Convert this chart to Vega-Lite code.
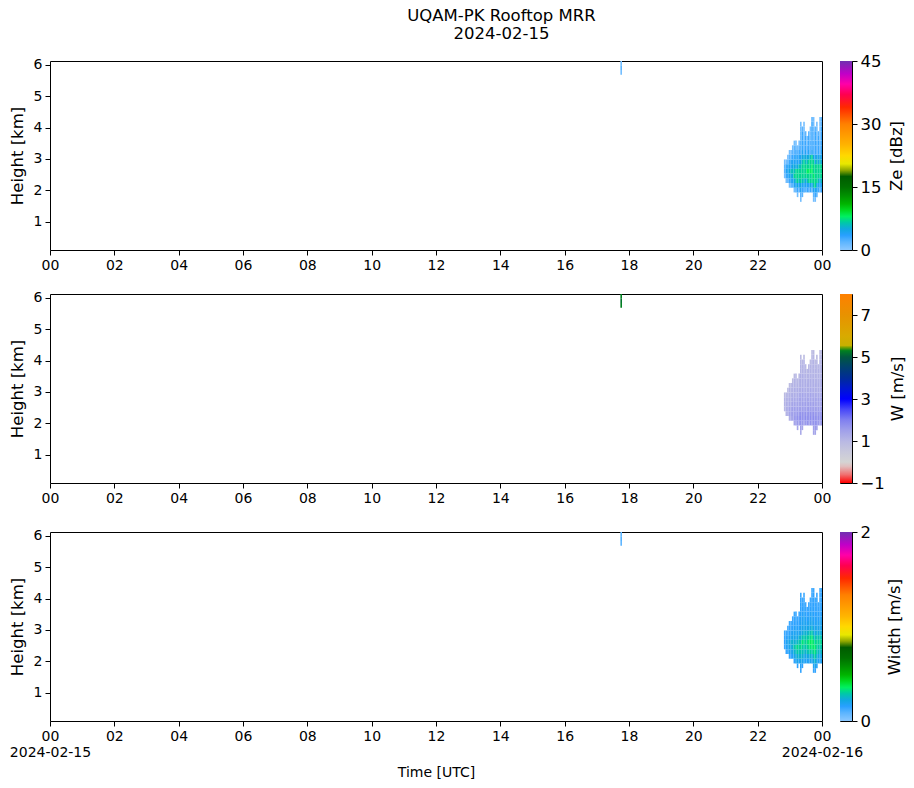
{
  "$schema": "https://vega.github.io/schema/vega-lite/v6.json",
  "description": "UQAM-PK Rooftop MRR, 2024-02-15: reflectivity, Doppler velocity and spectral width",
  "padding": {"left": 8, "top": 8, "right": 0, "bottom": 0},
  "title": {
    "text": ["UQAM-PK Rooftop MRR", "2024-02-15"],
    "anchor": "middle",
    "dx": 44,
    "fontSize": 16.5,
    "fontWeight": "normal",
    "lineHeight": 17.5,
    "offset": 10.5
  },
  "data": {
    "values": [
      {"minute": 1063, "km": 5.7, "ze": 1, "w": 5.3, "sw": 0.08},
      {"minute": 1063, "km": 5.85, "ze": 2, "w": 5.2, "sw": 0.1},
      {"minute": 1063, "km": 6.0, "ze": 1, "w": 5.3, "sw": 0.08},
      {"minute": 1368, "km": 2.4, "ze": 1, "w": 1.0, "sw": 0.13},
      {"minute": 1368, "km": 2.55, "ze": 2, "w": 1.1, "sw": 0.15},
      {"minute": 1368, "km": 2.7, "ze": 2, "w": 1.1, "sw": 0.14},
      {"minute": 1368, "km": 2.85, "ze": 1, "w": 0.9, "sw": 0.13},
      {"minute": 1371, "km": 2.25, "ze": 1, "w": 1.1, "sw": 0.14},
      {"minute": 1371, "km": 2.4, "ze": 3, "w": 1.2, "sw": 0.17},
      {"minute": 1371, "km": 2.55, "ze": 4, "w": 1.2, "sw": 0.18},
      {"minute": 1371, "km": 2.7, "ze": 3, "w": 1.1, "sw": 0.15},
      {"minute": 1371, "km": 2.85, "ze": 1, "w": 1.0, "sw": 0.13},
      {"minute": 1374, "km": 2.25, "ze": 2, "w": 1.2, "sw": 0.15},
      {"minute": 1374, "km": 2.4, "ze": 4, "w": 1.3, "sw": 0.18},
      {"minute": 1374, "km": 2.55, "ze": 4, "w": 1.2, "sw": 0.19},
      {"minute": 1374, "km": 2.7, "ze": 4, "w": 1.2, "sw": 0.17},
      {"minute": 1374, "km": 2.85, "ze": 2, "w": 1.1, "sw": 0.14},
      {"minute": 1374, "km": 3.0, "ze": 1, "w": 0.9, "sw": 0.13},
      {"minute": 1377, "km": 2.1, "ze": 1, "w": 1.2, "sw": 0.14},
      {"minute": 1377, "km": 2.25, "ze": 3, "w": 1.4, "sw": 0.18},
      {"minute": 1377, "km": 2.4, "ze": 4, "w": 1.4, "sw": 0.2},
      {"minute": 1377, "km": 2.55, "ze": 5, "w": 1.3, "sw": 0.2},
      {"minute": 1377, "km": 2.7, "ze": 4, "w": 1.2, "sw": 0.18},
      {"minute": 1377, "km": 2.85, "ze": 3, "w": 1.1, "sw": 0.15},
      {"minute": 1377, "km": 3.0, "ze": 2, "w": 1.1, "sw": 0.14},
      {"minute": 1377, "km": 3.15, "ze": 1, "w": 0.9, "sw": 0.13},
      {"minute": 1380, "km": 2.1, "ze": 2, "w": 1.4, "sw": 0.15},
      {"minute": 1380, "km": 2.25, "ze": 4, "w": 1.5, "sw": 0.19},
      {"minute": 1380, "km": 2.4, "ze": 5, "w": 1.4, "sw": 0.22},
      {"minute": 1380, "km": 2.55, "ze": 6, "w": 1.3, "sw": 0.24},
      {"minute": 1380, "km": 2.7, "ze": 4, "w": 1.2, "sw": 0.19},
      {"minute": 1380, "km": 2.85, "ze": 4, "w": 1.2, "sw": 0.17},
      {"minute": 1380, "km": 3.0, "ze": 2, "w": 1.1, "sw": 0.14},
      {"minute": 1380, "km": 3.15, "ze": 1, "w": 1.0, "sw": 0.13},
      {"minute": 1383, "km": 2.1, "ze": 2, "w": 1.4, "sw": 0.17},
      {"minute": 1383, "km": 2.25, "ze": 4, "w": 1.5, "sw": 0.2},
      {"minute": 1383, "km": 2.4, "ze": 5, "w": 1.5, "sw": 0.24},
      {"minute": 1383, "km": 2.55, "ze": 6, "w": 1.4, "sw": 0.24},
      {"minute": 1383, "km": 2.7, "ze": 5, "w": 1.3, "sw": 0.2},
      {"minute": 1383, "km": 2.85, "ze": 4, "w": 1.2, "sw": 0.18},
      {"minute": 1383, "km": 3.0, "ze": 3, "w": 1.1, "sw": 0.15},
      {"minute": 1383, "km": 3.15, "ze": 2, "w": 1.1, "sw": 0.14},
      {"minute": 1383, "km": 3.3, "ze": 1, "w": 0.9, "sw": 0.13},
      {"minute": 1386, "km": 1.95, "ze": 1, "w": 1.4, "sw": 0.15},
      {"minute": 1386, "km": 2.1, "ze": 4, "w": 1.6, "sw": 0.2},
      {"minute": 1386, "km": 2.25, "ze": 5, "w": 1.5, "sw": 0.24},
      {"minute": 1386, "km": 2.4, "ze": 7, "w": 1.5, "sw": 0.28},
      {"minute": 1386, "km": 2.55, "ze": 6, "w": 1.4, "sw": 0.24},
      {"minute": 1386, "km": 2.7, "ze": 5, "w": 1.3, "sw": 0.2},
      {"minute": 1386, "km": 2.85, "ze": 4, "w": 1.2, "sw": 0.18},
      {"minute": 1386, "km": 3.0, "ze": 3, "w": 1.2, "sw": 0.17},
      {"minute": 1386, "km": 3.15, "ze": 2, "w": 1.1, "sw": 0.15},
      {"minute": 1386, "km": 3.3, "ze": 2, "w": 1.1, "sw": 0.14},
      {"minute": 1386, "km": 3.45, "ze": 1, "w": 0.9, "sw": 0.13},
      {"minute": 1389, "km": 1.95, "ze": 2, "w": 1.5, "sw": 0.18},
      {"minute": 1389, "km": 2.1, "ze": 4, "w": 1.7, "sw": 0.22},
      {"minute": 1389, "km": 2.25, "ze": 6, "w": 1.6, "sw": 0.26},
      {"minute": 1389, "km": 2.4, "ze": 7, "w": 1.5, "sw": 0.3},
      {"minute": 1389, "km": 2.55, "ze": 7, "w": 1.4, "sw": 0.24},
      {"minute": 1389, "km": 2.7, "ze": 5, "w": 1.3, "sw": 0.2},
      {"minute": 1389, "km": 2.85, "ze": 4, "w": 1.2, "sw": 0.19},
      {"minute": 1389, "km": 3.0, "ze": 4, "w": 1.2, "sw": 0.17},
      {"minute": 1389, "km": 3.15, "ze": 3, "w": 1.1, "sw": 0.15},
      {"minute": 1389, "km": 3.3, "ze": 2, "w": 1.1, "sw": 0.14},
      {"minute": 1389, "km": 3.45, "ze": 1, "w": 1.0, "sw": 0.13},
      {"minute": 1392, "km": 1.8, "ze": 1, "w": 1.4, "sw": 0.15},
      {"minute": 1392, "km": 1.95, "ze": 3, "w": 1.6, "sw": 0.2},
      {"minute": 1392, "km": 2.1, "ze": 5, "w": 1.7, "sw": 0.24},
      {"minute": 1392, "km": 2.25, "ze": 7, "w": 1.6, "sw": 0.29},
      {"minute": 1392, "km": 2.4, "ze": 7, "w": 1.5, "sw": 0.32},
      {"minute": 1392, "km": 2.55, "ze": 7, "w": 1.4, "sw": 0.26},
      {"minute": 1392, "km": 2.7, "ze": 5, "w": 1.3, "sw": 0.2},
      {"minute": 1392, "km": 2.85, "ze": 4, "w": 1.2, "sw": 0.18},
      {"minute": 1392, "km": 3.0, "ze": 3, "w": 1.2, "sw": 0.16},
      {"minute": 1392, "km": 3.15, "ze": 2, "w": 1.1, "sw": 0.15},
      {"minute": 1392, "km": 3.3, "ze": 1, "w": 1.0, "sw": 0.13},
      {"minute": 1395, "km": 1.95, "ze": 2, "w": 1.5, "sw": 0.18},
      {"minute": 1395, "km": 2.1, "ze": 4, "w": 1.7, "sw": 0.24},
      {"minute": 1395, "km": 2.25, "ze": 6, "w": 1.6, "sw": 0.27},
      {"minute": 1395, "km": 2.4, "ze": 7, "w": 1.5, "sw": 0.3},
      {"minute": 1395, "km": 2.55, "ze": 7, "w": 1.4, "sw": 0.28},
      {"minute": 1395, "km": 2.7, "ze": 6, "w": 1.4, "sw": 0.24},
      {"minute": 1395, "km": 2.85, "ze": 4, "w": 1.3, "sw": 0.19},
      {"minute": 1395, "km": 3.0, "ze": 4, "w": 1.2, "sw": 0.17},
      {"minute": 1395, "km": 3.15, "ze": 3, "w": 1.1, "sw": 0.15},
      {"minute": 1395, "km": 3.3, "ze": 2, "w": 1.1, "sw": 0.14},
      {"minute": 1395, "km": 3.45, "ze": 1, "w": 1.0, "sw": 0.13},
      {"minute": 1398, "km": 1.65, "ze": 1, "w": 1.3, "sw": 0.14},
      {"minute": 1398, "km": 1.8, "ze": 2, "w": 1.5, "sw": 0.17},
      {"minute": 1398, "km": 1.95, "ze": 4, "w": 1.7, "sw": 0.2},
      {"minute": 1398, "km": 2.1, "ze": 5, "w": 1.8, "sw": 0.24},
      {"minute": 1398, "km": 2.25, "ze": 7, "w": 1.7, "sw": 0.28},
      {"minute": 1398, "km": 2.4, "ze": 7, "w": 1.5, "sw": 0.32},
      {"minute": 1398, "km": 2.55, "ze": 7, "w": 1.4, "sw": 0.29},
      {"minute": 1398, "km": 2.7, "ze": 6, "w": 1.4, "sw": 0.24},
      {"minute": 1398, "km": 2.85, "ze": 5, "w": 1.3, "sw": 0.2},
      {"minute": 1398, "km": 3.0, "ze": 4, "w": 1.2, "sw": 0.19},
      {"minute": 1398, "km": 3.15, "ze": 2, "w": 1.2, "sw": 0.18},
      {"minute": 1398, "km": 3.3, "ze": 2, "w": 1.2, "sw": 0.17},
      {"minute": 1398, "km": 3.45, "ze": 2, "w": 1.2, "sw": 0.16},
      {"minute": 1398, "km": 3.6, "ze": 1, "w": 1.1, "sw": 0.15},
      {"minute": 1398, "km": 3.75, "ze": 1, "w": 1.1, "sw": 0.15},
      {"minute": 1398, "km": 3.9, "ze": 1, "w": 1.0, "sw": 0.14},
      {"minute": 1398, "km": 4.05, "ze": 1, "w": 0.9, "sw": 0.13},
      {"minute": 1401, "km": 1.8, "ze": 2, "w": 1.4, "sw": 0.15},
      {"minute": 1401, "km": 1.95, "ze": 3, "w": 1.6, "sw": 0.19},
      {"minute": 1401, "km": 2.1, "ze": 4, "w": 1.7, "sw": 0.24},
      {"minute": 1401, "km": 2.25, "ze": 6, "w": 1.7, "sw": 0.27},
      {"minute": 1401, "km": 2.4, "ze": 7, "w": 1.5, "sw": 0.3},
      {"minute": 1401, "km": 2.55, "ze": 7, "w": 1.5, "sw": 0.34},
      {"minute": 1401, "km": 2.7, "ze": 7, "w": 1.4, "sw": 0.28},
      {"minute": 1401, "km": 2.85, "ze": 6, "w": 1.4, "sw": 0.22},
      {"minute": 1401, "km": 3.0, "ze": 5, "w": 1.3, "sw": 0.2},
      {"minute": 1401, "km": 3.15, "ze": 4, "w": 1.2, "sw": 0.18},
      {"minute": 1401, "km": 3.3, "ze": 3, "w": 1.2, "sw": 0.17},
      {"minute": 1401, "km": 3.45, "ze": 3, "w": 1.2, "sw": 0.16},
      {"minute": 1401, "km": 3.6, "ze": 3, "w": 1.1, "sw": 0.15},
      {"minute": 1401, "km": 3.75, "ze": 3, "w": 1.1, "sw": 0.14},
      {"minute": 1401, "km": 3.9, "ze": 2, "w": 1.0, "sw": 0.13},
      {"minute": 1404, "km": 1.95, "ze": 3, "w": 1.5, "sw": 0.18},
      {"minute": 1404, "km": 2.1, "ze": 4, "w": 1.7, "sw": 0.22},
      {"minute": 1404, "km": 2.25, "ze": 6, "w": 1.7, "sw": 0.26},
      {"minute": 1404, "km": 2.4, "ze": 7, "w": 1.6, "sw": 0.29},
      {"minute": 1404, "km": 2.55, "ze": 7, "w": 1.5, "sw": 0.32},
      {"minute": 1404, "km": 2.7, "ze": 7, "w": 1.4, "sw": 0.29},
      {"minute": 1404, "km": 2.85, "ze": 7, "w": 1.4, "sw": 0.24},
      {"minute": 1404, "km": 3.0, "ze": 5, "w": 1.3, "sw": 0.2},
      {"minute": 1404, "km": 3.15, "ze": 2, "w": 1.2, "sw": 0.19},
      {"minute": 1404, "km": 3.3, "ze": 2, "w": 1.2, "sw": 0.18},
      {"minute": 1404, "km": 3.45, "ze": 2, "w": 1.2, "sw": 0.17},
      {"minute": 1404, "km": 3.6, "ze": 1, "w": 1.1, "sw": 0.16},
      {"minute": 1404, "km": 3.75, "ze": 1, "w": 1.1, "sw": 0.15},
      {"minute": 1404, "km": 3.9, "ze": 1, "w": 1.1, "sw": 0.14},
      {"minute": 1404, "km": 4.05, "ze": 1, "w": 0.9, "sw": 0.13},
      {"minute": 1407, "km": 1.95, "ze": 2, "w": 1.6, "sw": 0.17},
      {"minute": 1407, "km": 2.1, "ze": 4, "w": 1.8, "sw": 0.2},
      {"minute": 1407, "km": 2.25, "ze": 5, "w": 1.7, "sw": 0.24},
      {"minute": 1407, "km": 2.4, "ze": 7, "w": 1.5, "sw": 0.28},
      {"minute": 1407, "km": 2.55, "ze": 7, "w": 1.5, "sw": 0.3},
      {"minute": 1407, "km": 2.7, "ze": 7, "w": 1.4, "sw": 0.27},
      {"minute": 1407, "km": 2.85, "ze": 6, "w": 1.3, "sw": 0.24},
      {"minute": 1407, "km": 3.0, "ze": 5, "w": 1.2, "sw": 0.2},
      {"minute": 1407, "km": 3.15, "ze": 4, "w": 1.2, "sw": 0.18},
      {"minute": 1407, "km": 3.3, "ze": 3, "w": 1.2, "sw": 0.17},
      {"minute": 1407, "km": 3.45, "ze": 3, "w": 1.1, "sw": 0.15},
      {"minute": 1407, "km": 3.6, "ze": 3, "w": 1.1, "sw": 0.14},
      {"minute": 1407, "km": 3.75, "ze": 2, "w": 1.0, "sw": 0.13},
      {"minute": 1410, "km": 1.95, "ze": 3, "w": 1.7, "sw": 0.18},
      {"minute": 1410, "km": 2.1, "ze": 4, "w": 1.7, "sw": 0.22},
      {"minute": 1410, "km": 2.25, "ze": 6, "w": 1.6, "sw": 0.27},
      {"minute": 1410, "km": 2.4, "ze": 7, "w": 1.5, "sw": 0.3},
      {"minute": 1410, "km": 2.55, "ze": 8, "w": 1.4, "sw": 0.32},
      {"minute": 1410, "km": 2.7, "ze": 7, "w": 1.4, "sw": 0.29},
      {"minute": 1410, "km": 2.85, "ze": 6, "w": 1.3, "sw": 0.24},
      {"minute": 1410, "km": 3.0, "ze": 5, "w": 1.2, "sw": 0.2},
      {"minute": 1410, "km": 3.15, "ze": 2, "w": 1.2, "sw": 0.18},
      {"minute": 1410, "km": 3.3, "ze": 2, "w": 1.1, "sw": 0.16},
      {"minute": 1410, "km": 3.45, "ze": 1, "w": 1.1, "sw": 0.14},
      {"minute": 1410, "km": 3.6, "ze": 1, "w": 1.0, "sw": 0.13},
      {"minute": 1413, "km": 1.95, "ze": 2, "w": 1.5, "sw": 0.17},
      {"minute": 1413, "km": 2.1, "ze": 4, "w": 1.7, "sw": 0.22},
      {"minute": 1413, "km": 2.25, "ze": 7, "w": 1.7, "sw": 0.28},
      {"minute": 1413, "km": 2.4, "ze": 7, "w": 1.6, "sw": 0.32},
      {"minute": 1413, "km": 2.55, "ze": 8, "w": 1.5, "sw": 0.34},
      {"minute": 1413, "km": 2.7, "ze": 7, "w": 1.4, "sw": 0.3},
      {"minute": 1413, "km": 2.85, "ze": 7, "w": 1.3, "sw": 0.26},
      {"minute": 1413, "km": 3.0, "ze": 5, "w": 1.2, "sw": 0.21},
      {"minute": 1413, "km": 3.15, "ze": 4, "w": 1.2, "sw": 0.19},
      {"minute": 1413, "km": 3.3, "ze": 3, "w": 1.2, "sw": 0.17},
      {"minute": 1413, "km": 3.45, "ze": 3, "w": 1.1, "sw": 0.15},
      {"minute": 1413, "km": 3.6, "ze": 3, "w": 1.1, "sw": 0.14},
      {"minute": 1413, "km": 3.75, "ze": 2, "w": 1.0, "sw": 0.13},
      {"minute": 1416, "km": 1.95, "ze": 3, "w": 1.7, "sw": 0.19},
      {"minute": 1416, "km": 2.1, "ze": 5, "w": 1.8, "sw": 0.24},
      {"minute": 1416, "km": 2.25, "ze": 7, "w": 1.7, "sw": 0.3},
      {"minute": 1416, "km": 2.4, "ze": 7, "w": 1.5, "sw": 0.34},
      {"minute": 1416, "km": 2.55, "ze": 8, "w": 1.5, "sw": 0.36},
      {"minute": 1416, "km": 2.7, "ze": 7, "w": 1.4, "sw": 0.32},
      {"minute": 1416, "km": 2.85, "ze": 7, "w": 1.4, "sw": 0.27},
      {"minute": 1416, "km": 3.0, "ze": 6, "w": 1.3, "sw": 0.22},
      {"minute": 1416, "km": 3.15, "ze": 2, "w": 1.2, "sw": 0.19},
      {"minute": 1416, "km": 3.3, "ze": 2, "w": 1.2, "sw": 0.18},
      {"minute": 1416, "km": 3.45, "ze": 2, "w": 1.1, "sw": 0.17},
      {"minute": 1416, "km": 3.6, "ze": 1, "w": 1.1, "sw": 0.15},
      {"minute": 1416, "km": 3.75, "ze": 1, "w": 1.1, "sw": 0.14},
      {"minute": 1416, "km": 3.9, "ze": 1, "w": 0.9, "sw": 0.13},
      {"minute": 1419, "km": 1.95, "ze": 2, "w": 1.6, "sw": 0.18},
      {"minute": 1419, "km": 2.1, "ze": 4, "w": 1.7, "sw": 0.22},
      {"minute": 1419, "km": 2.25, "ze": 7, "w": 1.7, "sw": 0.29},
      {"minute": 1419, "km": 2.4, "ze": 7, "w": 1.6, "sw": 0.34},
      {"minute": 1419, "km": 2.55, "ze": 8, "w": 1.5, "sw": 0.36},
      {"minute": 1419, "km": 2.7, "ze": 8, "w": 1.4, "sw": 0.34},
      {"minute": 1419, "km": 2.85, "ze": 7, "w": 1.4, "sw": 0.29},
      {"minute": 1419, "km": 3.0, "ze": 7, "w": 1.3, "sw": 0.24},
      {"minute": 1419, "km": 3.15, "ze": 4, "w": 1.2, "sw": 0.2},
      {"minute": 1419, "km": 3.3, "ze": 3, "w": 1.2, "sw": 0.18},
      {"minute": 1419, "km": 3.45, "ze": 3, "w": 1.2, "sw": 0.17},
      {"minute": 1419, "km": 3.6, "ze": 3, "w": 1.1, "sw": 0.16},
      {"minute": 1419, "km": 3.75, "ze": 3, "w": 1.1, "sw": 0.15},
      {"minute": 1419, "km": 3.9, "ze": 3, "w": 1.1, "sw": 0.15},
      {"minute": 1419, "km": 4.05, "ze": 3, "w": 1.0, "sw": 0.14},
      {"minute": 1419, "km": 4.2, "ze": 2, "w": 0.9, "sw": 0.13},
      {"minute": 1422, "km": 1.65, "ze": 1, "w": 1.4, "sw": 0.14},
      {"minute": 1422, "km": 1.8, "ze": 2, "w": 1.5, "sw": 0.18},
      {"minute": 1422, "km": 1.95, "ze": 4, "w": 1.7, "sw": 0.22},
      {"minute": 1422, "km": 2.1, "ze": 6, "w": 1.8, "sw": 0.27},
      {"minute": 1422, "km": 2.25, "ze": 7, "w": 1.7, "sw": 0.32},
      {"minute": 1422, "km": 2.4, "ze": 8, "w": 1.5, "sw": 0.35},
      {"minute": 1422, "km": 2.55, "ze": 7, "w": 1.5, "sw": 0.34},
      {"minute": 1422, "km": 2.7, "ze": 7, "w": 1.4, "sw": 0.29},
      {"minute": 1422, "km": 2.85, "ze": 7, "w": 1.3, "sw": 0.24},
      {"minute": 1422, "km": 3.0, "ze": 5, "w": 1.2, "sw": 0.2},
      {"minute": 1422, "km": 3.15, "ze": 2, "w": 1.2, "sw": 0.18},
      {"minute": 1422, "km": 3.3, "ze": 2, "w": 1.2, "sw": 0.17},
      {"minute": 1422, "km": 3.45, "ze": 2, "w": 1.1, "sw": 0.16},
      {"minute": 1422, "km": 3.6, "ze": 1, "w": 1.1, "sw": 0.15},
      {"minute": 1422, "km": 3.75, "ze": 1, "w": 1.1, "sw": 0.15},
      {"minute": 1422, "km": 3.9, "ze": 1, "w": 1.1, "sw": 0.14},
      {"minute": 1422, "km": 4.05, "ze": 1, "w": 1.0, "sw": 0.14},
      {"minute": 1422, "km": 4.2, "ze": 1, "w": 0.9, "sw": 0.13},
      {"minute": 1425, "km": 1.65, "ze": 1, "w": 1.4, "sw": 0.14},
      {"minute": 1425, "km": 1.8, "ze": 3, "w": 1.6, "sw": 0.19},
      {"minute": 1425, "km": 1.95, "ze": 4, "w": 1.7, "sw": 0.24},
      {"minute": 1425, "km": 2.1, "ze": 7, "w": 1.7, "sw": 0.29},
      {"minute": 1425, "km": 2.25, "ze": 7, "w": 1.6, "sw": 0.32},
      {"minute": 1425, "km": 2.4, "ze": 7, "w": 1.5, "sw": 0.34},
      {"minute": 1425, "km": 2.55, "ze": 7, "w": 1.4, "sw": 0.3},
      {"minute": 1425, "km": 2.7, "ze": 7, "w": 1.4, "sw": 0.26},
      {"minute": 1425, "km": 2.85, "ze": 5, "w": 1.3, "sw": 0.21},
      {"minute": 1425, "km": 3.0, "ze": 4, "w": 1.2, "sw": 0.19},
      {"minute": 1425, "km": 3.15, "ze": 3, "w": 1.2, "sw": 0.17},
      {"minute": 1425, "km": 3.3, "ze": 3, "w": 1.1, "sw": 0.16},
      {"minute": 1425, "km": 3.45, "ze": 3, "w": 1.1, "sw": 0.15},
      {"minute": 1425, "km": 3.6, "ze": 3, "w": 1.1, "sw": 0.14},
      {"minute": 1425, "km": 3.75, "ze": 3, "w": 1.0, "sw": 0.14},
      {"minute": 1425, "km": 3.9, "ze": 2, "w": 0.9, "sw": 0.13},
      {"minute": 1428, "km": 1.8, "ze": 2, "w": 1.5, "sw": 0.17},
      {"minute": 1428, "km": 1.95, "ze": 4, "w": 1.7, "sw": 0.2},
      {"minute": 1428, "km": 2.1, "ze": 5, "w": 1.7, "sw": 0.24},
      {"minute": 1428, "km": 2.25, "ze": 7, "w": 1.6, "sw": 0.28},
      {"minute": 1428, "km": 2.4, "ze": 7, "w": 1.5, "sw": 0.3},
      {"minute": 1428, "km": 2.55, "ze": 7, "w": 1.4, "sw": 0.32},
      {"minute": 1428, "km": 2.7, "ze": 7, "w": 1.4, "sw": 0.29},
      {"minute": 1428, "km": 2.85, "ze": 6, "w": 1.3, "sw": 0.24},
      {"minute": 1428, "km": 3.0, "ze": 5, "w": 1.2, "sw": 0.2},
      {"minute": 1428, "km": 3.15, "ze": 2, "w": 1.2, "sw": 0.18},
      {"minute": 1428, "km": 3.3, "ze": 2, "w": 1.2, "sw": 0.17},
      {"minute": 1428, "km": 3.45, "ze": 2, "w": 1.1, "sw": 0.16},
      {"minute": 1428, "km": 3.6, "ze": 1, "w": 1.1, "sw": 0.15},
      {"minute": 1428, "km": 3.75, "ze": 1, "w": 1.1, "sw": 0.14},
      {"minute": 1428, "km": 3.9, "ze": 1, "w": 1.0, "sw": 0.14},
      {"minute": 1428, "km": 4.05, "ze": 1, "w": 0.9, "sw": 0.13},
      {"minute": 1431, "km": 1.95, "ze": 3, "w": 1.6, "sw": 0.18},
      {"minute": 1431, "km": 2.1, "ze": 4, "w": 1.7, "sw": 0.21},
      {"minute": 1431, "km": 2.25, "ze": 6, "w": 1.6, "sw": 0.26},
      {"minute": 1431, "km": 2.4, "ze": 7, "w": 1.5, "sw": 0.29},
      {"minute": 1431, "km": 2.55, "ze": 7, "w": 1.4, "sw": 0.3},
      {"minute": 1431, "km": 2.7, "ze": 7, "w": 1.4, "sw": 0.27},
      {"minute": 1431, "km": 2.85, "ze": 5, "w": 1.3, "sw": 0.22},
      {"minute": 1431, "km": 3.0, "ze": 4, "w": 1.2, "sw": 0.19},
      {"minute": 1431, "km": 3.15, "ze": 3, "w": 1.2, "sw": 0.17},
      {"minute": 1431, "km": 3.3, "ze": 3, "w": 1.1, "sw": 0.16},
      {"minute": 1431, "km": 3.45, "ze": 3, "w": 1.1, "sw": 0.15},
      {"minute": 1431, "km": 3.6, "ze": 3, "w": 1.1, "sw": 0.14},
      {"minute": 1431, "km": 3.75, "ze": 2, "w": 1.0, "sw": 0.13},
      {"minute": 1434, "km": 1.95, "ze": 2, "w": 1.5, "sw": 0.17},
      {"minute": 1434, "km": 2.1, "ze": 4, "w": 1.7, "sw": 0.2},
      {"minute": 1434, "km": 2.25, "ze": 5, "w": 1.7, "sw": 0.24},
      {"minute": 1434, "km": 2.4, "ze": 7, "w": 1.5, "sw": 0.28},
      {"minute": 1434, "km": 2.55, "ze": 7, "w": 1.4, "sw": 0.32},
      {"minute": 1434, "km": 2.7, "ze": 7, "w": 1.4, "sw": 0.29},
      {"minute": 1434, "km": 2.85, "ze": 6, "w": 1.3, "sw": 0.24},
      {"minute": 1434, "km": 3.0, "ze": 5, "w": 1.2, "sw": 0.2},
      {"minute": 1434, "km": 3.15, "ze": 2, "w": 1.2, "sw": 0.19},
      {"minute": 1434, "km": 3.3, "ze": 2, "w": 1.2, "sw": 0.17},
      {"minute": 1434, "km": 3.45, "ze": 2, "w": 1.1, "sw": 0.16},
      {"minute": 1434, "km": 3.6, "ze": 1, "w": 1.1, "sw": 0.15},
      {"minute": 1434, "km": 3.75, "ze": 1, "w": 1.1, "sw": 0.15},
      {"minute": 1434, "km": 3.9, "ze": 1, "w": 1.1, "sw": 0.14},
      {"minute": 1434, "km": 4.05, "ze": 1, "w": 1.0, "sw": 0.14},
      {"minute": 1434, "km": 4.2, "ze": 1, "w": 0.9, "sw": 0.13},
      {"minute": 1437, "km": 1.95, "ze": 3, "w": 1.6, "sw": 0.18},
      {"minute": 1437, "km": 2.1, "ze": 4, "w": 1.7, "sw": 0.21},
      {"minute": 1437, "km": 2.25, "ze": 6, "w": 1.6, "sw": 0.26},
      {"minute": 1437, "km": 2.4, "ze": 7, "w": 1.5, "sw": 0.29},
      {"minute": 1437, "km": 2.55, "ze": 7, "w": 1.4, "sw": 0.3},
      {"minute": 1437, "km": 2.7, "ze": 7, "w": 1.4, "sw": 0.27},
      {"minute": 1437, "km": 2.85, "ze": 5, "w": 1.3, "sw": 0.22},
      {"minute": 1437, "km": 3.0, "ze": 4, "w": 1.2, "sw": 0.19},
      {"minute": 1437, "km": 3.15, "ze": 4, "w": 1.2, "sw": 0.18},
      {"minute": 1437, "km": 3.3, "ze": 3, "w": 1.2, "sw": 0.17},
      {"minute": 1437, "km": 3.45, "ze": 3, "w": 1.1, "sw": 0.16},
      {"minute": 1437, "km": 3.6, "ze": 3, "w": 1.1, "sw": 0.15},
      {"minute": 1437, "km": 3.75, "ze": 3, "w": 1.1, "sw": 0.14},
      {"minute": 1437, "km": 3.9, "ze": 3, "w": 1.0, "sw": 0.14},
      {"minute": 1437, "km": 4.05, "ze": 2, "w": 1.0, "sw": 0.14},
      {"minute": 1437, "km": 4.2, "ze": 2, "w": 0.9, "sw": 0.13}
    ]
  },
  "spacing": 17,
  "resolve": {"scale": {"color": "independent"}},
  "vconcat": [
    {
      "spacing": 18,
      "bounds": "flush",
      "hconcat": [
        {
          "width": 772,
          "height": 189,
          "mark": {"type": "rect", "clip": true},
          "encoding": {
            "x": {
              "field": "minute", "type": "quantitative",
              "bin": {"binned": true, "step": 3},
              "scale": {"domain": [0, 1440], "nice": false, "zero": false},
              "axis": {
                "title": null,
                "values": [0, 120, 240, 360, 480, 600, 720, 840, 960, 1080, 1200, 1320, 1440],
                "labelExpr": "(datum.value % 1440 < 600 ? '0' : '') + (datum.value % 1440) / 60"
              }
            },
            "y": {
              "field": "km", "type": "quantitative",
              "bin": {"binned": true, "step": 0.15},
              "scale": {"domain": [0.1, 6.12], "nice": false, "zero": false},
              "axis": {"title": "Height [km]", "values": [1, 2, 3, 4, 5, 6], "format": "d"}
            },
            "color": {
              "field": "ze", "type": "quantitative", "legend": null,
              "scale": {
                "domain": [0, 2, 3.5, 5, 6.5, 8, 9.5, 11, 13, 15, 17.5, 19, 20.5, 22.5, 25, 30, 34, 37, 39.5, 42, 45],
                "range": ["#8cc8ff", "#5ab4ff", "#28a0ff", "#10a8e0", "#00c8a8", "#00f060", "#00d820", "#00b400", "#009000", "#007000", "#005c00", "#90a800", "#e8e800", "#ffd800", "#ffb400", "#ff8000", "#ff2800", "#ff0050", "#ff00a8", "#c000c8", "#7030b0"],
                "interpolate": "rgb", "clamp": true
              }
            }
          }
        },
        {
          "width": 12,
          "height": 189,
          "data": {"values": [{"lo": 0, "hi": 45}]},
          "mark": {
            "type": "rect",
            "fill": {
              "gradient": "linear", "x1": 0, "y1": 1, "x2": 0, "y2": 0,
              "stops": [
                {"offset": 0, "color": "#8cc8ff"}, {"offset": 0.0444, "color": "#5ab4ff"},
                {"offset": 0.0778, "color": "#28a0ff"}, {"offset": 0.1111, "color": "#10a8e0"},
                {"offset": 0.1444, "color": "#00c8a8"}, {"offset": 0.1778, "color": "#00f060"},
                {"offset": 0.2111, "color": "#00d820"}, {"offset": 0.2444, "color": "#00b400"},
                {"offset": 0.2889, "color": "#009000"}, {"offset": 0.3333, "color": "#007000"},
                {"offset": 0.3889, "color": "#005c00"}, {"offset": 0.4222, "color": "#90a800"},
                {"offset": 0.4556, "color": "#e8e800"}, {"offset": 0.5, "color": "#ffd800"},
                {"offset": 0.5556, "color": "#ffb400"}, {"offset": 0.6667, "color": "#ff8000"},
                {"offset": 0.7556, "color": "#ff2800"}, {"offset": 0.8222, "color": "#ff0050"},
                {"offset": 0.8778, "color": "#ff00a8"}, {"offset": 0.9333, "color": "#c000c8"},
                {"offset": 1, "color": "#7030b0"}
              ]
            }
          },
          "encoding": {
            "y": {
              "field": "lo", "type": "quantitative",
              "scale": {"domain": [0, 45], "nice": false, "zero": false},
              "axis": {"orient": "right", "values": [0, 15, 30, 45], "format": "d", "title": "Ze [dBz]", "titleAngle": -90, "titleBaseline": "top", "grid": false, "labelFontSize": 16.5, "titlePadding": 8}
            },
            "y2": {"field": "hi"}
          }
        }
      ]
    },
    {
      "spacing": 18,
      "bounds": "flush",
      "hconcat": [
        {
          "width": 772,
          "height": 189,
          "mark": {"type": "rect", "clip": true},
          "encoding": {
            "x": {
              "field": "minute", "type": "quantitative",
              "bin": {"binned": true, "step": 3},
              "scale": {"domain": [0, 1440], "nice": false, "zero": false},
              "axis": {
                "title": null,
                "values": [0, 120, 240, 360, 480, 600, 720, 840, 960, 1080, 1200, 1320, 1440],
                "labelExpr": "(datum.value % 1440 < 600 ? '0' : '') + (datum.value % 1440) / 60"
              }
            },
            "y": {
              "field": "km", "type": "quantitative",
              "bin": {"binned": true, "step": 0.15},
              "scale": {"domain": [0.1, 6.12], "nice": false, "zero": false},
              "axis": {"title": "Height [km]", "values": [1, 2, 3, 4, 5, 6], "format": "d"}
            },
            "color": {
              "field": "w", "type": "quantitative", "legend": null,
              "scale": {
                "domain": [-1, -0.6, -0.2, 0, 0.5, 1, 1.5, 2, 2.5, 3, 3.5, 4, 4.5, 5, 5.3, 5.45, 5.55, 6, 7, 8],
                "range": ["#ff0000", "#f07070", "#e0c0c0", "#d4d4d4", "#c8c8dc", "#b8b8e4", "#a0a0ea", "#8080f0", "#4848f8", "#0000ff", "#0018d0", "#002c98", "#004070", "#005840", "#008020", "#70a000", "#c8b000", "#d8aa00", "#e89200", "#ff8000"],
                "interpolate": "rgb", "clamp": true
              }
            }
          }
        },
        {
          "width": 12,
          "height": 189,
          "data": {"values": [{"lo": -1, "hi": 8}]},
          "mark": {
            "type": "rect",
            "fill": {
              "gradient": "linear", "x1": 0, "y1": 1, "x2": 0, "y2": 0,
              "stops": [
                {"offset": 0, "color": "#ff0000"}, {"offset": 0.0444, "color": "#f07070"},
                {"offset": 0.0889, "color": "#e0c0c0"}, {"offset": 0.1111, "color": "#d4d4d4"},
                {"offset": 0.1667, "color": "#c8c8dc"}, {"offset": 0.2222, "color": "#b8b8e4"},
                {"offset": 0.2778, "color": "#a0a0ea"}, {"offset": 0.3333, "color": "#8080f0"},
                {"offset": 0.3889, "color": "#4848f8"}, {"offset": 0.4444, "color": "#0000ff"},
                {"offset": 0.5, "color": "#0018d0"}, {"offset": 0.5556, "color": "#002c98"},
                {"offset": 0.6111, "color": "#004070"}, {"offset": 0.6667, "color": "#005840"},
                {"offset": 0.7, "color": "#008020"}, {"offset": 0.7167, "color": "#70a000"},
                {"offset": 0.7278, "color": "#c8b000"}, {"offset": 0.7778, "color": "#d8aa00"},
                {"offset": 0.8889, "color": "#e89200"}, {"offset": 1, "color": "#ff8000"}
              ]
            }
          },
          "encoding": {
            "y": {
              "field": "lo", "type": "quantitative",
              "scale": {"domain": [-1, 8], "nice": false, "zero": false},
              "axis": {"orient": "right", "values": [-1, 1, 3, 5, 7], "labelExpr": "datum.value < 0 ? '\u2212' + abs(datum.value) : datum.label", "title": "W [m/s]", "titleAngle": -90, "titleBaseline": "top", "grid": false, "labelFontSize": 16.5, "titlePadding": 5}
            },
            "y2": {"field": "hi"}
          }
        }
      ]
    },
    {
      "spacing": 18,
      "bounds": "flush",
      "hconcat": [
        {
          "width": 772,
          "height": 189,
          "mark": {"type": "rect", "clip": true},
          "encoding": {
            "x": {
              "field": "minute", "type": "quantitative",
              "bin": {"binned": true, "step": 3},
              "scale": {"domain": [0, 1440], "nice": false, "zero": false},
              "axis": {
                "title": "Time [UTC]",
                "titleFontSize": 14,
                "titlePadding": 6,
                "values": [0, 120, 240, 360, 480, 600, 720, 840, 960, 1080, 1200, 1320, 1440],
                "labelExpr": "datum.value == 0 ? ['00', '2024-02-15'] : datum.value == 1440 ? ['00', '2024-02-16'] : (datum.value < 600 ? '0' : '') + datum.value / 60"
              }
            },
            "y": {
              "field": "km", "type": "quantitative",
              "bin": {"binned": true, "step": 0.15},
              "scale": {"domain": [0.1, 6.12], "nice": false, "zero": false},
              "axis": {"title": "Height [km]", "values": [1, 2, 3, 4, 5, 6], "format": "d"}
            },
            "color": {
              "field": "sw", "type": "quantitative", "legend": null,
              "scale": {
                "domain": [0, 0.0889, 0.1556, 0.2222, 0.2889, 0.3556, 0.4222, 0.4889, 0.5778, 0.6667, 0.7778, 0.8444, 0.9111, 1.0, 1.1111, 1.3333, 1.5111, 1.6444, 1.7556, 1.8667, 2],
                "range": ["#8cc8ff", "#5ab4ff", "#28a0ff", "#10a8e0", "#00c8a8", "#00f060", "#00d820", "#00b400", "#009000", "#007000", "#005c00", "#90a800", "#e8e800", "#ffd800", "#ffb400", "#ff8000", "#ff2800", "#ff0050", "#ff00a8", "#c000c8", "#7030b0"],
                "interpolate": "rgb", "clamp": true
              }
            }
          }
        },
        {
          "width": 12,
          "height": 189,
          "data": {"values": [{"lo": 0, "hi": 2}]},
          "mark": {
            "type": "rect",
            "fill": {
              "gradient": "linear", "x1": 0, "y1": 1, "x2": 0, "y2": 0,
              "stops": [
                {"offset": 0, "color": "#8cc8ff"}, {"offset": 0.0444, "color": "#5ab4ff"},
                {"offset": 0.0778, "color": "#28a0ff"}, {"offset": 0.1111, "color": "#10a8e0"},
                {"offset": 0.1444, "color": "#00c8a8"}, {"offset": 0.1778, "color": "#00f060"},
                {"offset": 0.2111, "color": "#00d820"}, {"offset": 0.2444, "color": "#00b400"},
                {"offset": 0.2889, "color": "#009000"}, {"offset": 0.3333, "color": "#007000"},
                {"offset": 0.3889, "color": "#005c00"}, {"offset": 0.4222, "color": "#90a800"},
                {"offset": 0.4556, "color": "#e8e800"}, {"offset": 0.5, "color": "#ffd800"},
                {"offset": 0.5556, "color": "#ffb400"}, {"offset": 0.6667, "color": "#ff8000"},
                {"offset": 0.7556, "color": "#ff2800"}, {"offset": 0.8222, "color": "#ff0050"},
                {"offset": 0.8778, "color": "#ff00a8"}, {"offset": 0.9333, "color": "#c000c8"},
                {"offset": 1, "color": "#7030b0"}
              ]
            }
          },
          "encoding": {
            "y": {
              "field": "lo", "type": "quantitative",
              "scale": {"domain": [0, 2], "nice": false, "zero": false},
              "axis": {"orient": "right", "values": [0, 1, 2], "format": "d", "title": "Width [m/s]", "titleAngle": -90, "titleBaseline": "top", "grid": false, "labelFontSize": 16.5, "titlePadding": 16}
            },
            "y2": {"field": "hi"}
          }
        }
      ]
    }
  ],
  "config": {
    "font": "DejaVu Sans",
    "view": {"stroke": "black", "strokeWidth": 1},
    "title": {"color": "black"},
    "axis": {
      "domain": false,
      "zindex": 1,
      "tickColor": "black",
      "tickSize": 5,
      "tickWidth": 1,
      "labelFontSize": 14,
      "labelColor": "black",
      "labelPadding": 3,
      "labelFlush": false,
      "labelOverlap": false,
      "titleFontSize": 16.5,
      "titleFontWeight": "normal",
      "titleColor": "black",
      "gridColor": "#b0b0b0",
      "gridWidth": 1,
      "gridOpacity": 1
    },
    "axisY": {"titlePadding": 8}
  }
}
